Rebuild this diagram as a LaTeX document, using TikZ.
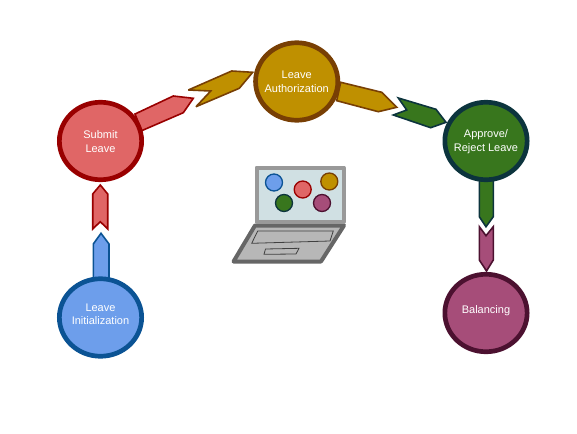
\documentclass[tikz,border=0pt]{standalone}
\usepackage{fontspec}
\usetikzlibrary{shapes.geometric}
\setmainfont{Liberation Sans}
\definecolor{bluef}{HTML}{6D9EEB}\definecolor{blued}{HTML}{0B5394}
\definecolor{redf}{HTML}{E06666}\definecolor{redd}{HTML}{990000}
\definecolor{goldf}{HTML}{BF9000}\definecolor{goldd}{HTML}{783F04}
\definecolor{greenf}{HTML}{38761D}\definecolor{greend}{HTML}{0C343D}
\definecolor{purpf}{HTML}{A64D79}\definecolor{purpd}{HTML}{4C1130}
\definecolor{screenf}{HTML}{D0E0E3}\definecolor{lapa}{HTML}{999999}\definecolor{lapb}{HTML}{666666}\definecolor{lapc}{HTML}{B7B7B7}
\tikzset{
  stage/.style={ellipse,minimum width=82.3pt,minimum height=77.5pt,inner sep=0pt,line width=4.7pt},
  stagetext/.style={align=center,text=white,inner sep=0pt,font=\fontsize{11}{13.4}\selectfont},
  chev/.style={line width=1.6pt,line join=miter,miter limit=4},
  dot/.style={circle,minimum size=17pt,inner sep=0pt,line width=1.3pt},
}
\begin{document}
\begin{tikzpicture}[x=1pt,y=-1pt]
\useasboundingbox (0,0) rectangle (577,433);
% arrows
\draw[chev,draw=blued,fill=bluef] (93.3,280)--(93.3,244)--(101,233.3)--(109,244)--(109,280)--cycle;
\draw[chev,draw=redd,fill=redf] (92.7,229)--(92.7,194)--(100.3,185)--(107.7,194)--(107.7,229)--(100.3,221.7)--cycle;
\draw[chev,draw=redd,fill=redf] (135,114)--(173.3,96)--(193.3,98.3)--(183.3,112.7)--(141.7,130.7)--cycle;
\draw[chev,draw=goldd,fill=goldf] (252.7,72.3)--(231.7,71)--(188.3,90)--(210.7,91)--(196,106.7)--(239.3,88.3)--cycle;
\draw[chev,draw=goldd,fill=goldf] (340.7,82.3)--(381.7,92.3)--(396.7,107.3)--(378.3,111.7)--(336.7,100.7)--cycle;
\draw[chev,draw=greend,fill=greenf] (398.3,98)--(436,109.3)--(446,122.3)--(430.7,127.7)--(393.3,115)--(406.7,110)--cycle;
\draw[chev,draw=greend,fill=greenf] (479.3,178)--(493.3,178)--(493.3,216.7)--(486,226.7)--(479.3,216.7)--cycle;
\draw[chev,draw=purpd,fill=purpf] (479.3,226.7)--(486,235.7)--(493.3,226.7)--(493.3,260)--(486.5,271)--(479.3,260)--cycle;
% stages
\node[stage,draw=blued,fill=bluef] (init) at (100.5,317.5) {};
\node[stagetext] (initt) at (100.5,314) {Leave\\Initialization};
\node[stage,draw=redd,fill=redf] (submit) at (100.5,141) {};
\node[stagetext] (submitt) at (100.5,141.5) {Submit\\Leave};
\node[stage,draw=goldd,fill=goldf] (auth) at (296.7,81.5) {};
\node[stagetext] (autht) at (296.7,81.7) {Leave\\Authorization};
\node[stage,draw=greend,fill=greenf] (appr) at (486,141) {};
\node[stagetext] (apprt) at (486,141.7) {Approve/\\Reject Leave};
\node[stage,draw=purpd,fill=purpf] (bal) at (486,313) {};
\node[stagetext] (balt) at (486,310.7) {Balancing};
% laptop
\draw[lapb,fill=lapc,line width=4pt,line join=round] (255,225.5)--(344,225.5)--(321,261.5)--(233.5,261.5)--cycle;
\draw[black!75,fill=lapc,line width=.8pt] (257.7,231)--(333.3,231)--(330,241)--(251.7,243.3)--cycle;
\draw[black!75,fill=lapc,line width=.8pt] (265.5,249)--(299,248.3)--(296,254)--(264,254.3)--cycle;
\draw[lapa,fill=screenf,line width=4pt,line join=round] (256.5,167.5) rectangle (343.5,222);
\node[dot,draw=blued,fill=bluef] (d1) at (274,182.5) {};
\node[dot,draw=redd,fill=redf] (d2) at (302.7,189.5) {};
\node[dot,draw=goldd,fill=goldf] (d3) at (329.3,181.5) {};
\node[dot,draw=greend,fill=greenf] (d4) at (284,203) {};
\node[dot,draw=purpd,fill=purpf] (d5) at (322,203) {};
\end{tikzpicture}
\end{document}
